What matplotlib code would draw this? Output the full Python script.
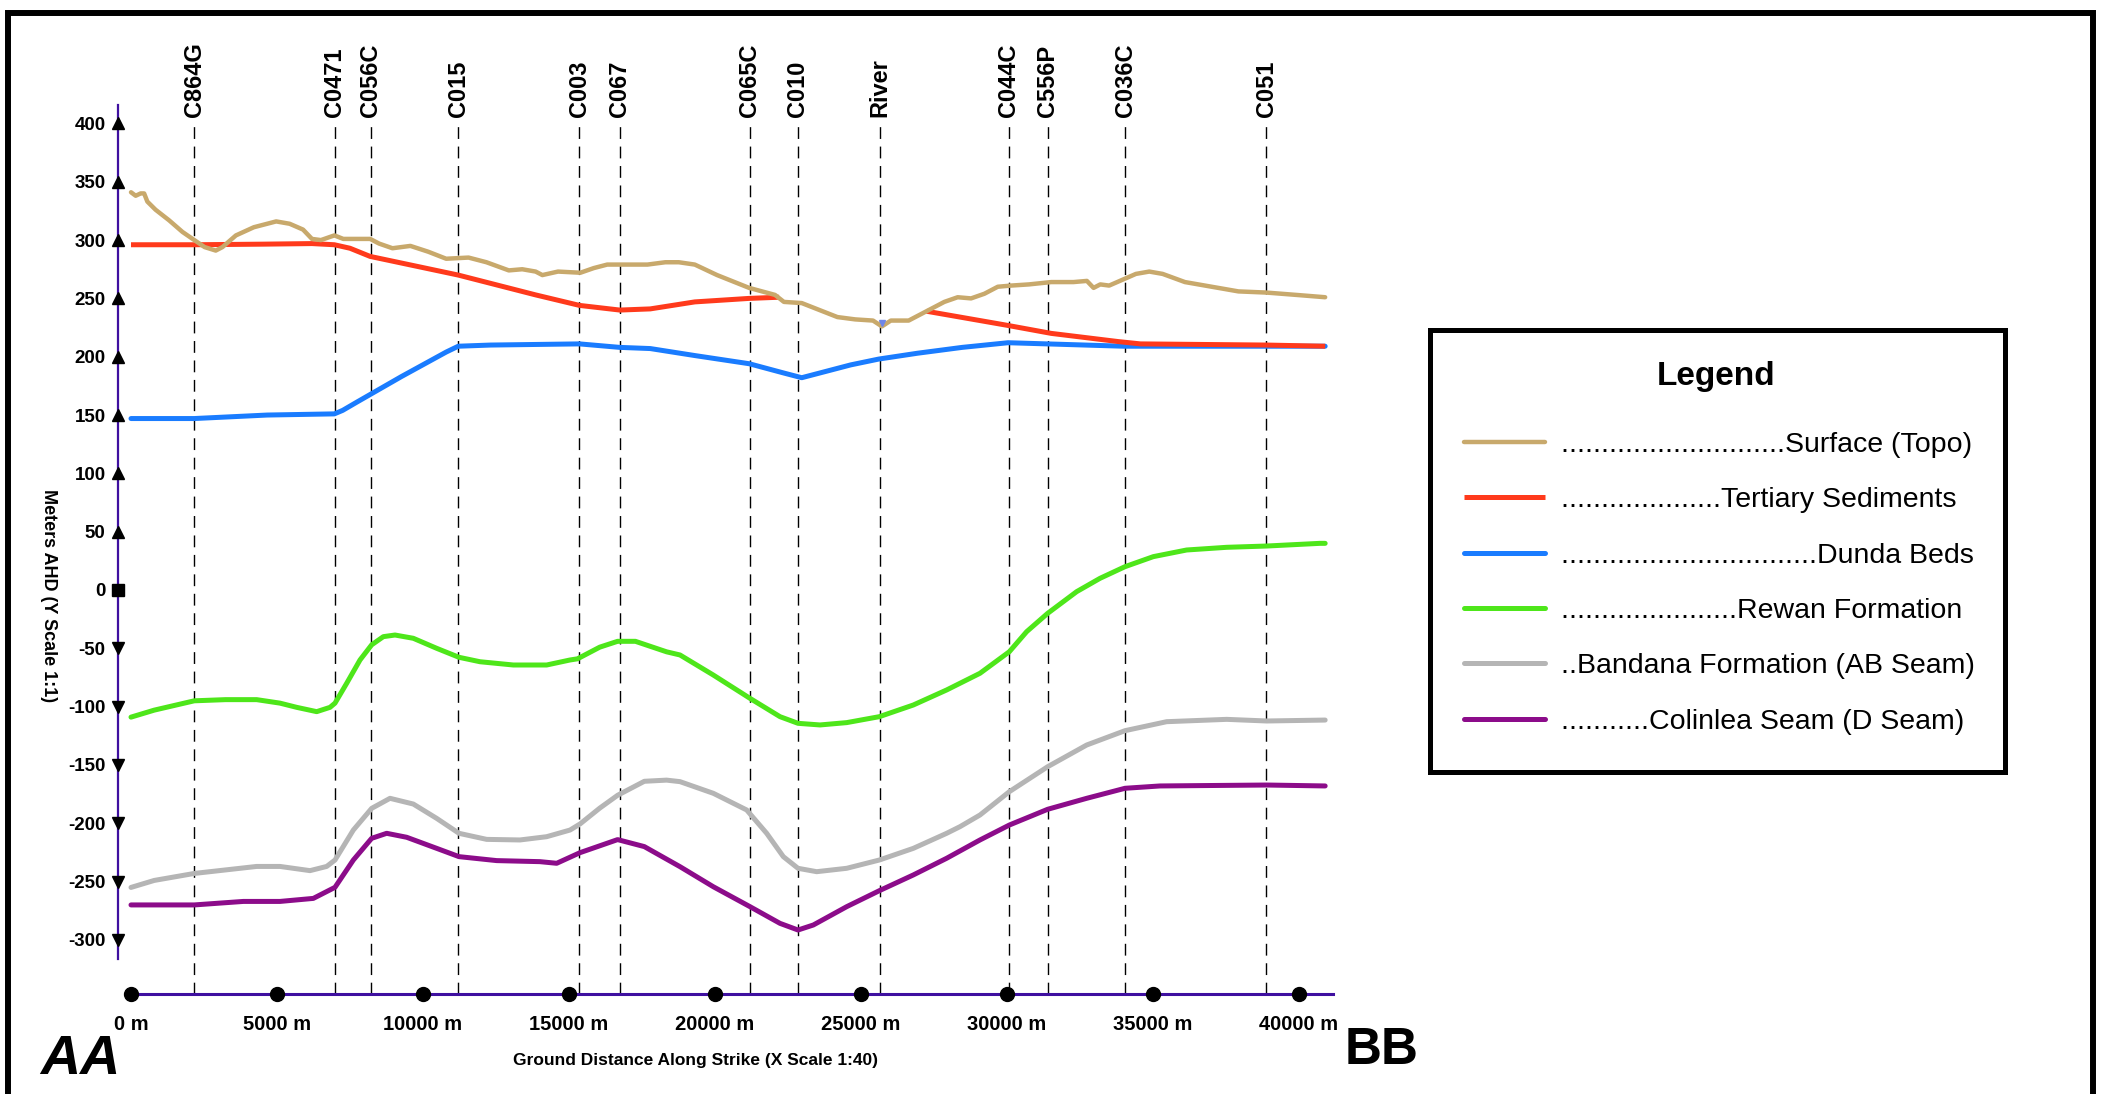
import numpy as np
import matplotlib
matplotlib.use("Agg")
import matplotlib.pyplot as plt
from matplotlib import font_manager
from matplotlib.transforms import blended_transform_factory
from matplotlib.patches import Rectangle
from matplotlib.lines import Line2D

# ---------------------------------------------------------------- data
# distances along strike (m) and elevations (m AHD)
surface_x = [0, 160, 330, 450, 560, 842, 1302, 1762, 2168, 2520, 2903, 3133, 3593,
             4206, 4972, 5432, 5892, 6198, 6505, 6965, 7271, 8190, 8497, 8956, 9569,
             10182, 10795, 11561, 12174, 12940, 13400, 13859, 14089, 14625, 15391,
             15851, 16311, 16923, 17689, 18302, 18762, 19310, 20073, 21172, 22057,
             22362, 22973, 23583, 24194, 24804, 25414, 25719, 26024, 26635, 27093,
             27551, 27856, 28314, 28772, 29230, 29688, 30146, 30755, 31518, 32281,
             32739, 32968, 33197, 33502, 33960, 34418, 34876, 35334, 36097, 37013,
             37928, 38884, 39907, 40900]
surface_z = [341, 338, 340, 340, 333, 326, 317, 307, 300, 294, 291, 294, 304,
             311, 316, 314, 309, 301, 300, 304, 301, 301, 297, 293, 295,
             290, 284, 285, 281, 274, 275, 273, 270, 273, 272,
             276, 279, 279, 279, 281, 281, 279, 270, 259, 253,
             247, 246, 240, 234, 232, 231, 226, 231, 231, 237,
             243, 247, 251, 250, 254, 260, 261, 262, 264, 264,
             265, 259, 262, 261, 266, 271, 273, 271, 264, 260,
             256, 255, 253, 251]

# the Tertiary cover is absent (eroded) beneath the river valley
tertiary_x = [0, 2168, 4500, 6198, 6965, 7500, 8190, 11208, 13859, 15360, 16743, 17784,
              19310, 21172, 22200, 22300, 27246, 29993, 31518, 33807, 34571, 38884, 40900]
tertiary_z = [296, 296, 296.5, 297, 296, 293, 286, 270, 253, 244, 240, 241,
              247, 250, 251, np.nan, 239, 227, 220, 213, 211, 210, 209]

dunda_x = [0, 2168, 4666, 6965, 7250, 7730, 9263, 10795, 11208, 12310, 15360, 16743,
           17784, 19310, 21172, 22362, 22973, 23583, 24651, 25612, 26940, 28466, 30038,
           31366, 34006, 40900]
dunda_z = [147, 147, 150, 151, 154, 161, 183, 204, 209, 210, 211, 208,
           207, 201, 194, 186, 182, 186, 193, 198, 203, 208, 212,
           211, 209, 209]

rewan_x = [0, 795, 2168, 3236, 4304, 5103, 5675, 6360, 6816, 6987, 7387, 7843, 8243,
           8643, 9042, 9669, 10470, 11234, 11953, 13094, 14236, 15036, 15292, 16055,
           16666, 17276, 18344, 18803, 19944, 21201, 22228, 22845, 23598, 24512, 25630,
           26794, 27936, 29078, 30083, 30677, 31396, 32390, 33188, 34045, 35014, 36156,
           37526, 38897, 40722, 40900]
rewan_z = [-109, -103, -95, -94, -94, -97, -100.6, -104.3, -100.6, -97, -80, -60, -47,
           -40, -38.6, -41.4, -50, -57.7, -61.5, -64.3, -64.3, -60, -59, -49,
           -44, -44, -53, -55.7, -72.9, -92.9, -108.6, -114.3, -115.7, -113.7, -108.6,
           -98.6, -85.7, -71.4, -52.9, -35.7, -20, -1.4, 10, 20, 28.6, 34.3,
           36.6, 37.7, 40, 40]

bandana_x = [0, 795, 2168, 3236, 4304, 5103, 6131, 6702, 6987, 7615, 8243, 8871, 9669,
             10470, 11234, 12182, 13323, 14236, 15036, 15378, 16055, 16666, 17582,
             18344, 18803, 19944, 21087, 21772, 22342, 22845, 23485, 24512, 25630,
             26794, 27936, 28393, 29078, 30083, 31396, 32732, 34045, 35472, 37526,
             38897, 40900]
bandana_z = [-255, -249, -243, -240, -237, -237, -240.6, -237, -231.5, -205.8, -187.2,
             -178.6, -183.5, -195.8, -208.6, -213.8, -214.3, -211.5, -205.8, -200.6,
             -187, -176, -164, -163, -164.3, -174.3, -188.6, -208.6, -228.6, -238.6,
             -241.5, -238.6, -231.5, -221.5, -208.6, -202.9, -192.9, -172.9, -151.5,
             -132.9, -120.6, -112.9, -110.9, -112.3, -111.5]

colinlea_x = [0, 2168, 3846, 5103, 6245, 6987, 7615, 8243, 8757, 9442, 10470, 11234,
              12525, 14008, 14580, 15378, 16666, 17582, 18803, 19944, 21201, 22228,
              22845, 23370, 24512, 25630, 26794, 27936, 29078, 30083, 31396, 32732,
              34045, 35243, 38897, 40900]
colinlea_z = [-270, -270, -267, -267, -264.4, -254.9, -231.5, -212.9, -208.6, -212,
              -221.5, -228.6, -232, -232.9, -234.3, -225.2, -214, -220, -237.2, -254.4,
              -271.5, -285.8, -291.5, -287.2, -271.5, -257.8, -244.3, -230, -214.3,
              -201.5, -188, -178.6, -170, -168, -167.2, -168]

bore_names = ["C864G", "C0471", "C056C", "C015", "C003", "C067", "C065C", "C010",
              "River", "C044C", "C556P", "C036C", "C051"]
bore_x = [2168, 6980, 8210, 11208, 15360, 16743, 21190, 22840, 25640, 30060,
          31400, 34045, 38890]

river_x = [25719]
river_z = [229]

y_ticks = list(range(-300, 401, 50))
x_ticks = list(range(0, 40001, 5000))
x_tick_labels = [f"{v} m" for v in x_ticks]

legend_labels = ["............................Surface (Topo)",
                 "....................Tertiary Sediments",
                 "................................Dunda Beds",
                 "......................Rewan Formation",
                 "..Bandana Formation (AB Seam)",
                 "...........Colinlea Seam (D Seam)"]

# ---------------------------------------------------------------- styling
W, H = 2109, 1094
DPI = 100
AXIS_PURPLE = "#3f10a0"
COLORS = {"surface": "#c8a96c", "tertiary": "#ff3a1c", "dunda": "#1a7cff",
          "rewan": "#4ee61a", "bandana": "#b5b5b5", "colinlea": "#8c0c8a"}

installed = {f.name for f in font_manager.fontManager.ttflist}
NARROW = "Liberation Sans Narrow" if "Liberation Sans Narrow" in installed else "Liberation Sans"
plt.rcParams["font.family"] = ["Liberation Sans", "DejaVu Sans"]


def fx(px):
    return px / W


def fy(py):
    return 1 - py / H


fig = plt.figure(figsize=(W / DPI, H / DPI), dpi=DPI)
fig.patch.set_facecolor("white")

# axes box in pixel terms: left spine at x=118, bottom spine at y=994
ax_left, ax_right, ax_top, ax_bottom = 118, 1340, 100, 994
ax = fig.add_axes([fx(ax_left), fy(ax_bottom), (ax_right - ax_left) / W,
                   (ax_bottom - ax_top) / H])
ax.patch.set_alpha(0)

m_per_px = 34.25
x0_px = 131
px_per_m = 1.1664
y0_px = 590
ax.set_xlim((ax_left - x0_px) * m_per_px, (ax_right - x0_px) * m_per_px)
ax.set_ylim((y0_px - ax_bottom) / px_per_m, (y0_px - ax_top) / px_per_m)

# ---------------------------------------------------------------- bore lines
label_base = (y0_px - 117) / px_per_m
line_top = (y0_px - 124) / px_per_m
ax.vlines(bore_x, ax.get_ylim()[0], line_top, colors="black", linewidth=1.0,
          linestyles=(0, (8.5, 5.5)), zorder=1)
for name, bx in zip(bore_names, bore_x):
    ax.text(bx, label_base, name, rotation=90, ha="center", va="bottom",
            fontsize=17, fontweight="bold", clip_on=False)

# ---------------------------------------------------------------- horizons
lw = 3.6
h_dunda, = ax.plot(dunda_x, dunda_z, color=COLORS["dunda"], lw=lw, zorder=3,
                   solid_capstyle="round", label=legend_labels[2])
h_tert, = ax.plot(tertiary_x, tertiary_z, color=COLORS["tertiary"], lw=lw, zorder=4,
                  solid_capstyle="butt", label=legend_labels[1])
h_surf, = ax.plot(surface_x, surface_z, color=COLORS["surface"], lw=3.2, zorder=5,
                  solid_capstyle="round", label=legend_labels[0])
h_rewan, = ax.plot(rewan_x, rewan_z, color=COLORS["rewan"], lw=lw, zorder=3,
                   solid_capstyle="round", label=legend_labels[3])
h_band, = ax.plot(bandana_x, bandana_z, color=COLORS["bandana"], lw=lw, zorder=3,
                  solid_capstyle="round", label=legend_labels[4])
h_col, = ax.plot(colinlea_x, colinlea_z, color=COLORS["colinlea"], lw=lw, zorder=3,
                 solid_capstyle="round", label=legend_labels[5])
ax.plot(river_x, river_z, marker="v", ms=5, color="#6f86e8", ls="none", zorder=6)

# ---------------------------------------------------------------- axes
for side in ("top", "right"):
    ax.spines[side].set_visible(False)
ax.spines["left"].set_color(AXIS_PURPLE)
ax.spines["left"].set_linewidth(1.6)
ax.spines["left"].set_bounds(-316, 416)
ax.spines["bottom"].set_color(AXIS_PURPLE)
ax.spines["bottom"].set_linewidth(2.2)
ax.spines["bottom"].set_bounds(0, 41170)

ax.set_yticks(y_ticks)
ax.set_yticklabels([str(v) for v in y_ticks])
ax.set_xticks(x_ticks)
ax.set_xticklabels(x_tick_labels)
ax.tick_params(axis="y", length=0, pad=9, labelsize=13.5)
ax.tick_params(axis="x", length=0, pad=15, labelsize=14.5)
for t in ax.get_yticklabels() + ax.get_xticklabels():
    t.set_fontweight("bold")

ytrans = blended_transform_factory(ax.transAxes, ax.transData)
xtrans = blended_transform_factory(ax.transData, ax.transAxes)
up = [v for v in y_ticks if v > 0]
down = [v for v in y_ticks if v < 0]
ax.plot([0] * len(up), up, "^", color="black", ms=8, transform=ytrans,
        clip_on=False, zorder=7)
ax.plot([0] * len(down), down, "v", color="black", ms=8, transform=ytrans,
        clip_on=False, zorder=7)
ax.plot([0], [0], "s", color="black", ms=9, transform=ytrans, clip_on=False, zorder=7)
ax.plot(x_ticks, [0] * len(x_ticks), "o", color="black", ms=10, transform=xtrans,
        clip_on=False, zorder=7)

ax.set_ylabel("Meters AHD (Y Scale 1:1)", fontsize=13, fontweight="bold",
              rotation=270, va="center", ha="center")
ax.yaxis.set_label_coords((48 - ax_left) / (ax_right - ax_left),
                          (ax_bottom - 596) / (ax_bottom - ax_top))
ax.set_xlabel("Ground Distance Along Strike (X Scale 1:40)", fontsize=12.5,
              fontweight="bold", va="center")
ax.xaxis.set_label_coords((695 - ax_left) / (ax_right - ax_left),
                          (ax_bottom - 1061) / (ax_bottom - ax_top))

# ---------------------------------------------------------------- section ends
fig.text(fx(80), fy(1060), "AA", fontsize=40, fontweight="bold", style="italic",
         ha="center", va="center")
fig.text(fx(1382), fy(1051), "BB", fontsize=37, fontweight="bold",
         family=[NARROW, "DejaVu Sans"], ha="center", va="center")

# ---------------------------------------------------------------- legend
fig.add_artist(Rectangle((fx(1430), fy(772)), fx(2005) - fx(1430), fy(330) - fy(772),
                         transform=fig.transFigure, fill=False, edgecolor="black",
                         linewidth=3.6, joinstyle="miter"))
fig.text(fx(1716), fy(377), "Legend", fontsize=24, fontweight="bold",
         family=[NARROW, "DejaVu Sans"], ha="center", va="center")
fig.legend(handles=[h_surf, h_tert, h_dunda, h_rewan, h_band, h_col],
           loc="upper left", bbox_to_anchor=(fx(1464), fy(432)),
           bbox_transform=fig.transFigure, frameon=False, borderpad=0,
           borderaxespad=0, handlelength=2.85, handletextpad=0.55,
           labelspacing=1.03, fontsize=20.5)

# ---------------------------------------------------------------- outer frame
fig.add_artist(Line2D([fx(8), fx(8), fx(2093), fx(2093)],
                      [fy(H + 20), fy(13), fy(13), fy(H + 20)],
                      transform=fig.transFigure, color="black", linewidth=4.3,
                      solid_joinstyle="miter"))

fig.savefig("out.png", dpi=DPI, facecolor="white")
